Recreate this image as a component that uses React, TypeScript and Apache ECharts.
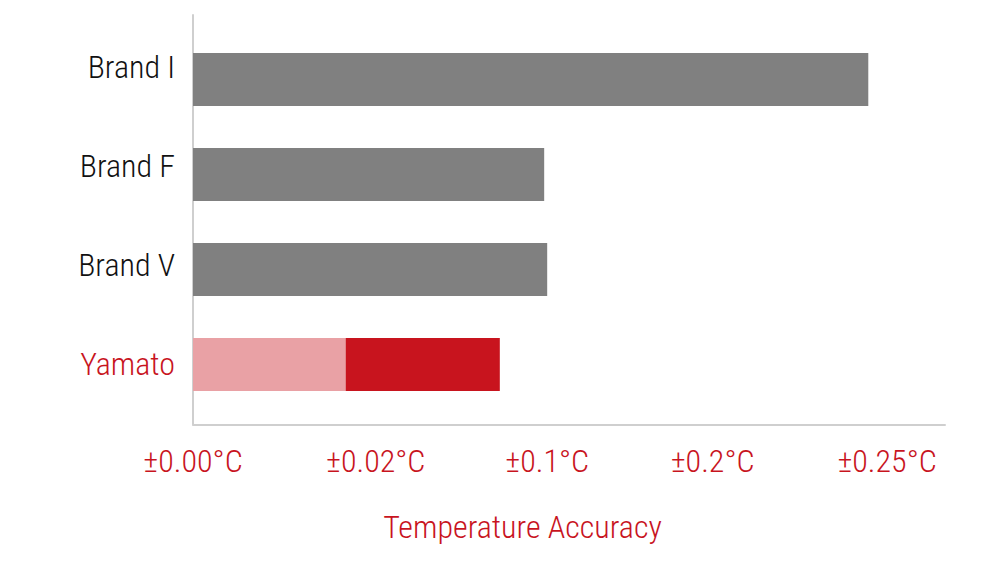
import React, { useEffect, useRef } from "react";
import * as echarts from "echarts";

// ---- data ----
const categories = ["Brand I", "Brand F", "Brand V", "Yamato"];
const baseValues = [89.8, 46.7, 47.1, 20.3];
const yamatoExtra = ["-", "-", "-", 20.5];
const tickValues = [0, 24.3, 47.1, 69.1, 92.3];
const tickLabels = ["±0.00°C", "±0.02°C", "±0.1°C", "±0.2°C", "±0.25°C"];
const axisMax = 100;
const axisTitle = "Temperature Accuracy";

const RED = "#C8141E";
const PINK = "#E9A1A5";
const GRAY = "#808080";
const LINE = "#CFCFCF";
const FONT =
  "'Roboto Condensed', 'Liberation Sans Narrow', 'Arial Narrow', 'DejaVu Sans Condensed', Roboto, sans-serif";

export default function App() {
  const ref = useRef<HTMLDivElement>(null);

  useEffect(() => {
    if (!ref.current) return;
    const chart = echarts.init(ref.current, undefined, { renderer: "svg" });
    const labelFor = (v: number) => {
      const i = tickValues.findIndex((t) => Math.abs(t - v) < 1e-6);
      return i >= 0 ? tickLabels[i] : "";
    };
    chart.setOption({
      animation: false,
      backgroundColor: "#ffffff",
      grid: [
        { left: 193, right: 55, top: 32, height: 380 },
        { left: 193, right: 55, top: 15, height: 409.5 },
        { left: 193, right: 55, top: 17.5, height: 396 },
      ],
      xAxis: [
        { gridIndex: 0, type: "value", min: 0, max: axisMax, show: false },
        {
          gridIndex: 1,
          type: "value",
          min: 0,
          max: axisMax,
          axisLine: { show: true, lineStyle: { color: LINE, width: 2 } },
          axisTick: { show: false },
          splitLine: { show: false },
          axisLabel: {
            customValues: tickValues,
            formatter: (v: number) => labelFor(v),
            color: RED,
            fontSize: 32,
            fontWeight: 300,
            fontFamily: FONT,
            margin: 20,
          },
        },
        { gridIndex: 2, type: "value", min: 0, max: axisMax, show: false },
      ],
      yAxis: [
        {
          gridIndex: 0,
          type: "category",
          data: categories,
          inverse: true,
          show: false,
        },
        {
          gridIndex: 1,
          type: "value",
          min: 0,
          max: 1,
          axisLine: { show: true, lineStyle: { color: LINE, width: 2 } },
          axisTick: { show: false },
          axisLabel: { show: false },
          splitLine: { show: false },
        },
        {
          gridIndex: 2,
          type: "category",
          data: categories,
          inverse: true,
          axisLine: { show: false },
          axisTick: { show: false },
          splitLine: { show: false },
          axisLabel: {
            fontSize: 32,
            fontWeight: 300,
            fontFamily: FONT,
            margin: 18,
            color: (_v: string, i: number) =>
              categories[i] === "Yamato" ? RED : "#111111",
          },
        },
      ],
      series: [
        {
          type: "bar",
          xAxisIndex: 0,
          yAxisIndex: 0,
          stack: "total",
          barWidth: 53,
          data: baseValues.map((v, i) => ({
            value: v,
            itemStyle: { color: categories[i] === "Yamato" ? PINK : GRAY },
          })),
        },
        {
          type: "bar",
          xAxisIndex: 0,
          yAxisIndex: 0,
          stack: "total",
          barWidth: 53,
          itemStyle: { color: RED },
          data: yamatoExtra,
        },
      ],
      graphic: [
        {
          type: "text",
          x: 522.5,
          y: 527,
          style: {
            text: axisTitle,
            fill: RED,
            fontSize: 32,
            fontWeight: 300,
            fontFamily: FONT,
            textAlign: "center",
            textVerticalAlign: "middle",
          },
        },
      ],
    });
    return () => chart.dispose();
  }, []);

  return (
    <div
      ref={ref}
      style={{ position: "absolute", left: 0, top: 0, width: 1000, height: 563 }}
    />
  );
}
